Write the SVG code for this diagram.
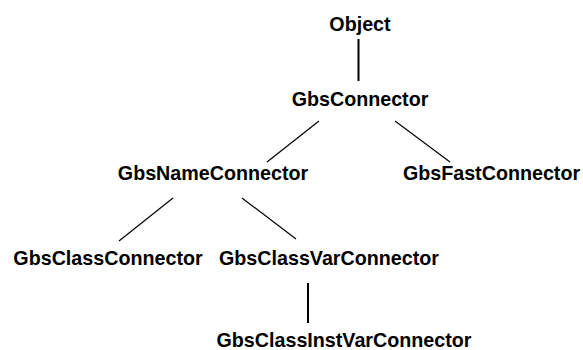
<svg xmlns="http://www.w3.org/2000/svg" width="583" height="350" viewBox="0 0 583 350">
<style>
.lbl{font-family:"Liberation Sans",Arial,Helvetica,sans-serif;font-weight:bold;font-size:19.7px;fill:#000;text-anchor:middle}
.thin{stroke:#000;stroke-width:1.2;fill:none}
.thick{stroke:#000;stroke-width:2;fill:none}
</style>
<rect width="583" height="350" fill="#fff"/>
<g id="connectors">
<line class="thick" x1="358.5" y1="39" x2="358.5" y2="81"/>
<line class="thin" x1="319" y1="121" x2="267" y2="162"/>
<line class="thin" x1="395" y1="121" x2="450" y2="162"/>
<line class="thin" x1="173" y1="198" x2="119" y2="241"/>
<line class="thin" x1="242" y1="198" x2="296" y2="239"/>
<line class="thick" x1="308" y1="283" x2="308" y2="323"/>
</g>
<g id="Object"><text class="lbl" x="360" y="31">Object</text></g>
<g id="GbsConnector"><text class="lbl" x="360" y="106">GbsConnector</text></g>
<g id="GbsNameConnector"><text class="lbl" x="213" y="180">GbsNameConnector</text></g>
<g id="GbsFastConnector"><text class="lbl" x="491.5" y="180">GbsFastConnector</text></g>
<g id="GbsClassConnector"><text class="lbl" x="108" y="265">GbsClassConnector</text></g>
<g id="GbsClassVarConnector"><text class="lbl" x="329" y="265">GbsClassVarConnector</text></g>
<g id="GbsClassInstVarConnector"><text class="lbl" x="344" y="346.5">GbsClassInstVarConnector</text></g>
</svg>
